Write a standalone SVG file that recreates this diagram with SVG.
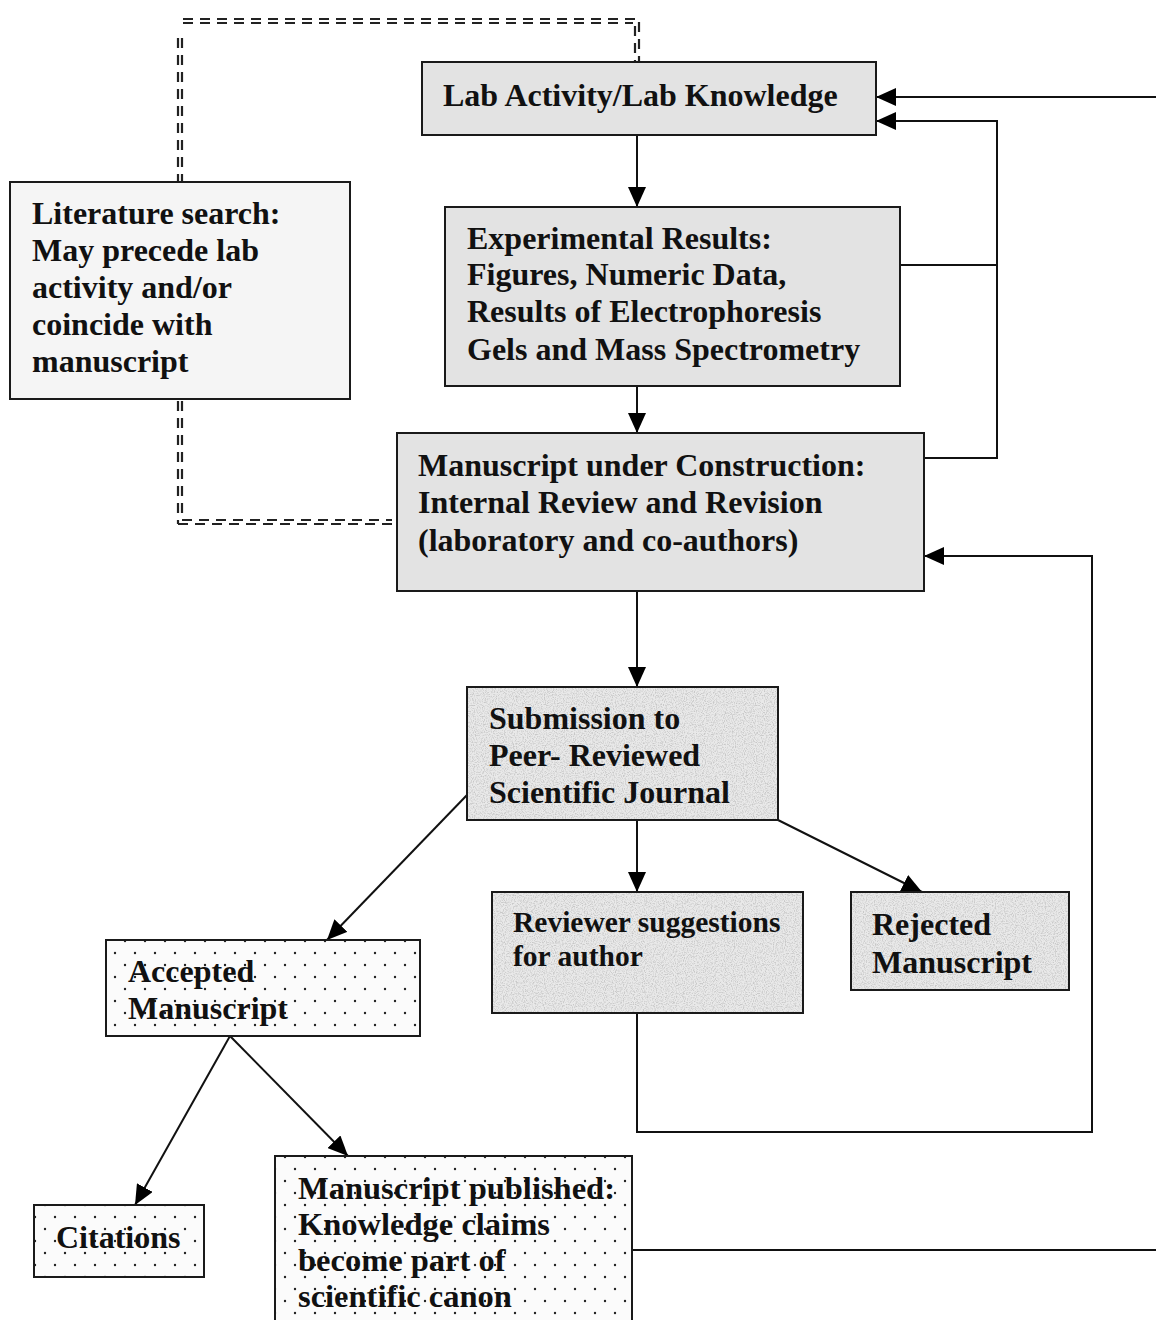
<svg xmlns="http://www.w3.org/2000/svg" width="1156" height="1320" viewBox="0 0 1156 1320">
<style>
.box{stroke:#1a1a1a;stroke-width:2}
.gray{fill:#e3e3e3}
.light{fill:#f5f5f5}
.granite{fill:#e9e9e9}
.dots{fill:url(#dotpat)}
.t{font-family:"Liberation Serif","Times New Roman",serif;font-weight:bold;font-size:32px;fill:#111}
.c{fill:none;stroke:#111;stroke-width:2}
.dash{fill:none;stroke:#222;stroke-width:2.2;stroke-dasharray:10 7}
</style>
<defs>
<marker id="arr" viewBox="0 0 20 18" refX="20" refY="9" markerWidth="20" markerHeight="18" markerUnits="userSpaceOnUse" orient="auto">
<path d="M0,0 L20,9 L0,18 Z" fill="#000"/>
</marker>
<pattern id="dotpat" x="0" y="0" width="20" height="24" patternUnits="userSpaceOnUse">
<rect width="20" height="24" fill="#fbfbfb"/>
<circle cx="5" cy="5" r="1.2" fill="#222"/>
<circle cx="15" cy="17" r="1.2" fill="#222"/>
</pattern>
<filter id="noise" x="0" y="0" width="100%" height="100%">
<feTurbulence type="fractalNoise" baseFrequency="0.9" numOctaves="2" seed="3" result="n"/>
<feColorMatrix in="n" type="matrix" values="0 0 0 0 0.45  0 0 0 0 0.45  0 0 0 0 0.45  3 0 0 0 -1.3" result="g"/>
<feComposite in="g" in2="SourceGraphic" operator="in"/>
</filter>
</defs>

<g id="connectors">
<path class="dash" d="M183,19 H637"/>
<path class="dash" d="M183,23 H633"/>
<path class="dash" d="M635,26 V62"/>
<path class="dash" d="M639,22 V62"/>
<path class="dash" d="M178,38 V182"/>
<path class="dash" d="M182,38 V182"/>
<path class="dash" d="M178,401 V524"/>
<path class="dash" d="M182,401 V520"/>
<path class="dash" d="M178,524 H392"/>
<path class="dash" d="M182,520 H392"/>

<path class="c" d="M637,135 V207" marker-end="url(#arr)"/>
<path class="c" d="M637,386 V433" marker-end="url(#arr)"/>
<path class="c" d="M637,591 V687" marker-end="url(#arr)"/>
<path class="c" d="M637,820 V892" marker-end="url(#arr)"/>
<path class="c" d="M467,795 L327,940" marker-end="url(#arr)"/>
<path class="c" d="M778,820 L922,892" marker-end="url(#arr)"/>
<path class="c" d="M230,1036 L135,1205" marker-end="url(#arr)"/>
<path class="c" d="M230,1036 L348,1156" marker-end="url(#arr)"/>
<path class="c" d="M1156,97 H876" marker-end="url(#arr)"/>
<path class="c" d="M900,265 H997"/>
<path class="c" d="M924,458 H997 V121 H876" marker-end="url(#arr)"/>
<path class="c" d="M637,1013 V1132 H1092 V556 H924" marker-end="url(#arr)"/>
<path class="c" d="M632,1250 H1156"/>
</g>

<g id="lab">
<rect class="box gray" x="422" y="62" width="454" height="73"/>
<text class="t" x="443" y="106">Lab Activity/Lab Knowledge</text>
</g>

<g id="literature">
<rect class="box light" x="10" y="182" width="340" height="217"/>
<text class="t" x="32" y="224">Literature search:</text>
<text class="t" x="32" y="261">May precede lab</text>
<text class="t" x="32" y="298">activity and/or</text>
<text class="t" x="32" y="335">coincide with</text>
<text class="t" x="32" y="372">manuscript</text>
</g>

<g id="experimental">
<rect class="box gray" x="445" y="207" width="455" height="179"/>
<text class="t" x="467" y="249">Experimental Results:</text>
<text class="t" x="467" y="285">Figures, Numeric Data,</text>
<text class="t" x="467" y="322">Results of Electrophoresis</text>
<text class="t" x="467" y="360">Gels and Mass Spectrometry</text>
</g>

<g id="construction">
<rect class="box gray" x="397" y="433" width="527" height="158"/>
<text class="t" x="418" y="476">Manuscript under Construction:</text>
<text class="t" x="418" y="513">Internal Review and Revision</text>
<text class="t" x="418" y="551">(laboratory and co-authors)</text>
</g>

<g id="submission">
<rect class="box granite" x="467" y="687" width="311" height="133"/>
<rect x="468" y="688" width="309" height="131" fill="#888" filter="url(#noise)" opacity="0.6"/>
<text class="t" x="489" y="729">Submission to</text>
<text class="t" x="489" y="766">Peer- Reviewed</text>
<text class="t" x="489" y="803">Scientific Journal</text>
</g>

<g id="reviewer">
<rect class="box granite" x="492" y="892" width="311" height="121"/>
<rect x="493" y="893" width="309" height="119" fill="#888" filter="url(#noise)" opacity="0.6"/>
<text class="t" x="513" y="932" style="font-size:29.5px">Reviewer suggestions</text>
<text class="t" x="513" y="966" style="font-size:29.5px">for author</text>
</g>

<g id="rejected">
<rect class="box granite" x="851" y="892" width="218" height="98"/>
<rect x="852" y="893" width="216" height="96" fill="#888" filter="url(#noise)" opacity="0.6"/>
<text class="t" x="872" y="935">Rejected</text>
<text class="t" x="872" y="973">Manuscript</text>
</g>

<g id="accepted">
<rect class="box dots" x="106" y="940" width="314" height="96"/>
<text class="t" x="128" y="982">Accepted</text>
<text class="t" x="128" y="1019">Manuscript</text>
</g>

<g id="citations">
<rect class="box dots" x="34" y="1205" width="170" height="72"/>
<text class="t" x="56" y="1248">Citations</text>
</g>

<g id="published">
<rect class="box dots" x="275" y="1156" width="357" height="170"/>
<text class="t" x="298" y="1199" style="font-size:32.5px">Manuscript published:</text>
<text class="t" x="298" y="1235" style="font-size:32.5px">Knowledge claims</text>
<text class="t" x="298" y="1271" style="font-size:32.5px">become part of</text>
<text class="t" x="298" y="1307" style="font-size:32.5px">scientific canon</text>
</g>
</svg>
